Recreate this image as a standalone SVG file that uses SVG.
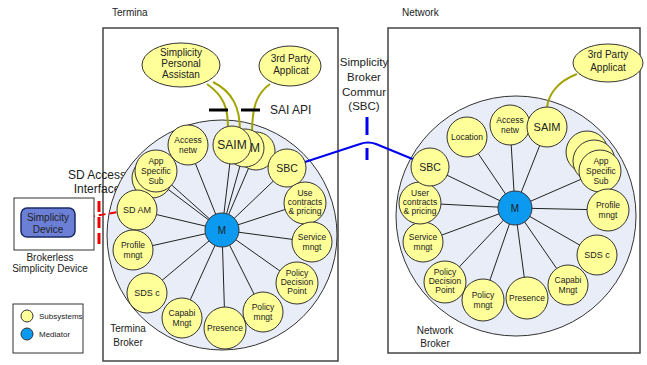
<svg xmlns="http://www.w3.org/2000/svg" width="647" height="365" viewBox="0 0 647 365">
<style>
text{font-family:"Liberation Sans",Arial,sans-serif;fill:#222}
.box{fill:#fff;stroke:#444;stroke-width:1.5}
.big{fill:#e8edf7;stroke:#333;stroke-width:1}
.sub{fill:#ffff99;stroke:#333;stroke-width:1}
.med{fill:#0b9af0;stroke:#333;stroke-width:1}
.spoke{stroke:#222;stroke-width:1;fill:none}
.olive{stroke:#a3a300;stroke-width:2;fill:none}
.lbl{font-size:8.5px;text-anchor:middle}
.big12{font-size:12px;text-anchor:middle}
.t10{font-size:10px}
.c{text-anchor:middle}
</style>
<rect x="0" y="0" width="647" height="365" fill="#fff"/>
<text class="t10" x="112" y="16">Termina</text>
<text class="t10" x="402" y="16">Network</text>
<rect class="box" x="103" y="28" width="235" height="333"/>
<rect class="box" x="388" y="28" width="252" height="325"/>
<text class="c" x="97" y="179" style="font-size:12px">SD Access</text>
<text class="c" x="97" y="193" style="font-size:12px">Interface</text>
<circle class="big" cx="222" cy="235" r="115"/>
<circle class="big" cx="516" cy="216" r="120"/>
<text class="t10 c" x="128" y="332">Termina</text>
<text class="t10 c" x="128" y="346">Broker</text>
<text class="t10 c" x="435" y="334">Network</text>
<text class="t10 c" x="435" y="347">Broker</text>
<g id="connectors">
<g class="spoke">
<line x1="222" y1="230" x2="232" y2="145"/>
<line x1="222" y1="230" x2="245" y2="148"/>
<line x1="222" y1="230" x2="256" y2="151"/>
<line x1="222" y1="230" x2="188" y2="145"/>
<line x1="222" y1="230" x2="153" y2="178"/>
<line x1="222" y1="230" x2="156" y2="171"/>
<line x1="222" y1="230" x2="287" y2="168"/>
<line x1="222" y1="230" x2="305" y2="203"/>
<line x1="222" y1="230" x2="137" y2="210"/>
<line x1="222" y1="230" x2="312" y2="242"/>
<line x1="222" y1="230" x2="133" y2="250"/>
<line x1="222" y1="230" x2="297" y2="283"/>
<line x1="222" y1="230" x2="147" y2="293"/>
<line x1="222" y1="230" x2="263" y2="312"/>
<line x1="222" y1="230" x2="182" y2="318"/>
<line x1="222" y1="230" x2="225" y2="328"/>
<line x1="515" y1="208" x2="467" y2="137"/>
<line x1="515" y1="208" x2="510" y2="125"/>
<line x1="515" y1="208" x2="547" y2="127"/>
<line x1="515" y1="208" x2="600" y2="171"/>
<line x1="515" y1="208" x2="608" y2="210"/>
<line x1="515" y1="208" x2="597" y2="255"/>
<line x1="515" y1="208" x2="568" y2="285"/>
<line x1="515" y1="208" x2="527" y2="298"/>
<line x1="515" y1="208" x2="483" y2="300"/>
<line x1="515" y1="208" x2="445" y2="282"/>
<line x1="515" y1="208" x2="423" y2="242"/>
<line x1="515" y1="208" x2="420" y2="203"/>
<line x1="515" y1="208" x2="430" y2="167"/>
</g>
<path class="olive" d="M207,84 C224,96 228,108 228,128"/>
<path class="olive" d="M213,82 C233,92 240,108 240,131"/>
<path class="olive" d="M270,84 C256,94 252,108 252,134"/>
<path class="olive" d="M577,74 C556,82 548,96 547,108"/>
<path d="M305,162 L360,144 Q368,141 376,144 L415,160" fill="none" stroke="#0000ee" stroke-width="2"/>
<line x1="367" y1="117" x2="367" y2="135" stroke="#0000ee" stroke-width="3"/>
<line x1="367" y1="148" x2="367" y2="160" stroke="#0000ee" stroke-width="3"/>
<line x1="209" y1="110" x2="228" y2="110" stroke="#000" stroke-width="3"/>
<line x1="241" y1="110" x2="260" y2="110" stroke="#000" stroke-width="3"/>
<line x1="77" y1="219" x2="118" y2="212" stroke="#e00" stroke-width="2" stroke-dasharray="7,4"/>
<line x1="99" y1="201" x2="99" y2="244" stroke="#e00" stroke-width="3" stroke-dasharray="11,5"/>
</g>
<text x="270" y="114" style="font-size:12px">SAI API</text>
<text class="c" x="364" y="66" style="font-size:11.5px">Simplicity</text>
<text class="c" x="364" y="81" style="font-size:11.5px">Broker</text>
<text class="c" x="364" y="96" style="font-size:11.5px">Commur</text>
<text class="c" x="364" y="110" style="font-size:11.5px">(SBC)</text>
<g id="brokerless">
<rect x="14" y="198" width="80" height="52" fill="#fff" stroke="#333" stroke-width="1"/>
<rect x="21" y="208" width="54" height="29" rx="6" fill="#6b7fd7" stroke="#1a2a66" stroke-width="1.5"/>
<text class="t10 c" x="48" y="221">Simplicity</text>
<text class="t10 c" x="48" y="233">Device</text>
<text class="t10 c" x="50" y="261">Brokerless</text>
<text class="t10 c" x="50" y="272">Simplicity Device</text>
</g>
<g id="legend">
<rect x="13" y="304" width="70" height="49" fill="#fff" stroke="#333" stroke-width="1"/>
<circle class="sub" cx="27" cy="316" r="6"/>
<circle class="med" cx="27" cy="334" r="6"/>
<text x="39" y="319" style="font-size:8px">Subsystems</text>
<text x="39" y="337" style="font-size:8px">Mediator</text>
</g>
<g id="spa"><ellipse class="sub" cx="181" cy="65" rx="39" ry="22"/>
<text class="c" x="181" y="56" style="font-size:10px">Simplicity</text>
<text class="c" x="181" y="67" style="font-size:10px">Personal</text>
<text class="c" x="181" y="78" style="font-size:10px">Assistan</text></g>
<g id="tp-left"><ellipse class="sub" cx="290" cy="66" rx="31" ry="20"/>
<text class="c" x="291" y="62" style="font-size:10px">3rd Party</text>
<text class="c" x="291" y="74" style="font-size:10px">Applicat</text></g>
<g id="tp-right"><ellipse class="sub" cx="608" cy="63" rx="35" ry="19"/>
<text class="c" x="608" y="58" style="font-size:10px">3rd Party</text>
<text class="c" x="608" y="71" style="font-size:10px">Applicat</text></g>
<g id="l-saim3"><circle class="sub" cx="256" cy="151" r="19"/></g>
<g id="l-saim2"><circle class="sub" cx="245" cy="148" r="19"/><text class="big12" x="255" y="152">M</text></g>
<g id="l-saim"><circle class="sub" cx="232" cy="145" r="19"/><text class="big12" x="232" y="149">SAIM</text></g>
<g id="l-access"><circle class="sub" cx="188" cy="145" r="20"/><text class="lbl" x="188" y="143">Access</text><text class="lbl" x="188" y="153">netw</text></g>
<g id="l-app2"><circle class="sub" cx="152" cy="178" r="20"/></g>
<g id="l-app"><circle class="sub" cx="156" cy="171" r="21"/><text class="lbl" x="156" y="164">App</text><text class="lbl" x="156" y="174">Specific</text><text class="lbl" x="156" y="184">Sub</text></g>
<g id="l-sbc"><circle class="sub" cx="287" cy="168" r="19"/><text x="287" y="172" style="font-size:10.5px;text-anchor:middle">SBC</text></g>
<g id="l-use"><circle class="sub" cx="305" cy="203" r="21"/><text class="lbl" x="305" y="196">Use</text><text class="lbl" x="305" y="205">contracts</text><text class="lbl" x="305" y="214">&amp; pricing</text></g>
<g id="l-sdam"><circle class="sub" cx="137" cy="210" r="20"/><text x="137" y="213" style="font-size:9px;text-anchor:middle">SD AM</text></g>
<g id="l-service"><circle class="sub" cx="312" cy="242" r="20"/><text class="lbl" x="312" y="240">Service</text><text class="lbl" x="312" y="250">mngt</text></g>
<g id="l-profile"><circle class="sub" cx="133" cy="250" r="20"/><text class="lbl" x="133" y="248">Profile</text><text class="lbl" x="133" y="258">mngt</text></g>
<g id="l-pdp"><circle class="sub" cx="297" cy="283" r="21"/><text class="lbl" x="297" y="276">Policy</text><text class="lbl" x="297" y="285">Decision</text><text class="lbl" x="297" y="294">Point</text></g>
<g id="l-sds"><circle class="sub" cx="147" cy="293" r="20"/><text x="147" y="296" style="font-size:9px;text-anchor:middle">SDS c</text></g>
<g id="l-policy"><circle class="sub" cx="263" cy="312" r="20"/><text class="lbl" x="263" y="310">Policy</text><text class="lbl" x="263" y="320">mngt</text></g>
<g id="l-capab"><circle class="sub" cx="182" cy="318" r="20"/><text class="lbl" x="182" y="316">Capabi</text><text class="lbl" x="182" y="326">Mngt</text></g>
<g id="l-presence"><circle class="sub" cx="225" cy="328" r="21"/><text class="lbl" x="225" y="331">Presence</text></g>
<g id="l-m"><circle class="med" cx="222" cy="230" r="17"/><text x="222" y="234" style="font-size:10px;text-anchor:middle">M</text></g>
<g id="r-location"><circle class="sub" cx="467" cy="137" r="20"/><text class="lbl" x="467" y="140">Location</text></g>
<g id="r-access"><circle class="sub" cx="510" cy="125" r="20"/><text class="lbl" x="510" y="123">Access</text><text class="lbl" x="510" y="133">netw</text></g>
<g id="r-saim"><circle class="sub" cx="547" cy="127" r="20"/><text x="547" y="131" style="font-size:11px;text-anchor:middle">SAIM</text></g>
<g id="r-app3"><circle class="sub" cx="587" cy="152" r="21"/></g>
<g id="r-app2"><circle class="sub" cx="594" cy="161" r="21"/></g>
<g id="r-app"><circle class="sub" cx="600" cy="171" r="21"/><text class="lbl" x="601" y="164">App</text><text class="lbl" x="601" y="174">Specific</text><text class="lbl" x="601" y="184">Sub</text></g>
<g id="r-profile"><circle class="sub" cx="608" cy="210" r="21"/><text class="lbl" x="608" y="208">Profile</text><text class="lbl" x="608" y="218">mngt</text></g>
<g id="r-sds"><circle class="sub" cx="597" cy="255" r="20"/><text x="597" y="258" style="font-size:9px;text-anchor:middle">SDS c</text></g>
<g id="r-capab"><circle class="sub" cx="568" cy="285" r="20"/><text class="lbl" x="568" y="283">Capabi</text><text class="lbl" x="568" y="293">Mngt</text></g>
<g id="r-presence"><circle class="sub" cx="527" cy="298" r="21"/><text class="lbl" x="527" y="301">Presence</text></g>
<g id="r-policy"><circle class="sub" cx="483" cy="300" r="21"/><text class="lbl" x="483" y="298">Policy</text><text class="lbl" x="483" y="308">mngt</text></g>
<g id="r-pdp"><circle class="sub" cx="445" cy="282" r="21"/><text class="lbl" x="445" y="275">Policy</text><text class="lbl" x="445" y="284">Decision</text><text class="lbl" x="445" y="293">Point</text></g>
<g id="r-service"><circle class="sub" cx="423" cy="242" r="20"/><text class="lbl" x="423" y="240">Service</text><text class="lbl" x="423" y="250">mngt</text></g>
<g id="r-user"><circle class="sub" cx="420" cy="203" r="21"/><text class="lbl" x="420" y="196">User</text><text class="lbl" x="420" y="205">contracts</text><text class="lbl" x="420" y="214">&amp; pricing</text></g>
<g id="r-sbc"><circle class="sub" cx="430" cy="167" r="19"/><text x="430" y="171" style="font-size:10.5px;text-anchor:middle">SBC</text></g>
<g id="r-m"><circle class="med" cx="515" cy="208" r="17"/><text x="515" y="212" style="font-size:10px;text-anchor:middle">M</text></g>
</svg>
